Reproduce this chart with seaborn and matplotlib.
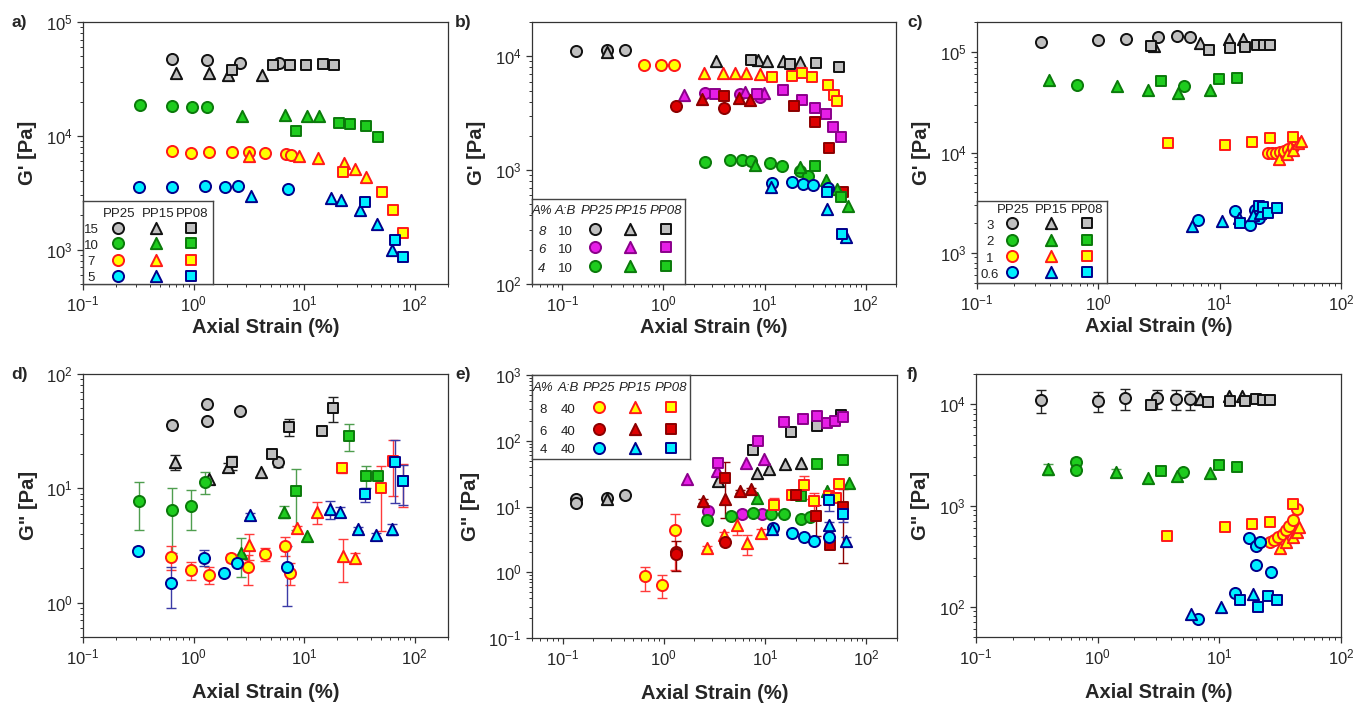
import numpy as np
import pandas as pd
import matplotlib
matplotlib.use("Agg")
import matplotlib.pyplot as plt
import seaborn as sns
from matplotlib.ticker import LogLocator, NullFormatter, LogFormatterSciNotation

# ------------------------------------------------------------------ data
SAMPLES = ["PP25", "PP15", "PP08"]

# panel a) G' (A:B ratio series 15 / 10 / 7 / 5)
A_GRAY = {"PP25": ([0.64, 1.31, 2.64, 5.9], [47200, 46600, 44000, 43500]),
          "PP15": ([0.687, 1.38, 2.04, 4.14], [35500, 35500, 33900, 34500]),
          "PP08": ([2.22, 5.2, 7.47, 10.4, 14.7, 18.5], [38200, 41500, 41500, 41500, 42500, 42000])}
A_GREEN = {"PP25": ([0.325, 0.64, 0.973, 1.31], [18700, 18300, 18000, 17900]),
           "PP15": ([2.72, 6.68, 10.7, 13.6], [15000, 15200, 15000, 14800]),
           "PP08": ([8.47, 20.8, 26.0, 36.3, 47.0], [11100, 12900, 12700, 12300, 9800])}
A_YELLOW = {"PP25": ([0.637, 0.953, 1.38, 2.22, 3.2, 4.38, 6.88, 7.63], [7430, 7130, 7280, 7280, 7280, 7130, 6890, 6750]),
            "PP15": ([3.2, 8.95, 13.3, 22.8, 29.1, 36.3], [6660, 6660, 6440, 5740, 5150, 4380]),
            "PP08": ([22.3, 50.4, 64.2, 78.0], [4850, 3230, 2250, 1400])}
A_CYAN = {"PP25": ([0.318, 0.637, 1.27, 1.92, 2.53, 7.17], [3570, 3520, 3620, 3570, 3620, 3430]),
          "PP15": ([3.32, 17.5, 21.6, 32.1, 45.4, 62.4], [2990, 2860, 2710, 2220, 1680, 1000]),
          "PP08": ([35.6, 66.8, 78.0], [2650, 1210, 860])}

# panel b) G' (A% series, A:B 10 and 40)
B_GRAY = {"PP25": ([0.137, 0.278, 0.415], [11200, 11400, 11300]),
          "PP15": ([0.278, 3.33, 8.7, 10.7, 15.2, 22.2], [11000, 9170, 9200, 9170, 9170, 8920]),
          "PP08": ([7.35, 17.7, 32.4, 55.0], [9360, 8570, 8750, 8010])}
B_MAGENTA = {"PP25": ([2.6, 5.75, 9.06], [4790, 4640, 4390]),
             "PP15": ([1.61, 6.46, 9.9], [4550, 4880, 4720]),
             "PP08": ([3.27, 8.41, 15.2, 23.4, 31.6, 40.3, 48.0, 56.8], [4690, 4690, 5010, 4100, 3490, 3130, 2410, 1960])}
B_GREEN = {"PP25": ([2.6, 4.59, 5.99, 7.35, 11.4, 14.9, 22.5, 27.2], [1190, 1230, 1230, 1210, 1150, 1090, 977, 896]),
           "PP15": ([8.1, 22.5, 40.3, 51.9, 66.5], [1120, 1060, 820, 685, 480]),
           "PP08": ([31.6, 57.2], [1090, 578])}
B_YELLOW = {"PP25": ([0.64, 0.955, 1.26], [8460, 8460, 8460]),
            "PP15": ([2.54, 3.88, 5.14, 6.49, 8.92], [7140, 7200, 7140, 7140, 7000]),
            "PP08": ([11.8, 18.6, 23.5, 29.8, 42.8, 48.8, 52.6], [6560, 6690, 7060, 6560, 5580, 4560, 4050])}
B_DARKRED = {"PP25": ([1.32, 3.94], [3640, 3540]),
             "PP15": ([2.38, 5.54, 7.12], [4190, 4270, 4130]),
             "PP08": ([3.94, 19.6, 31.6, 43.5, 59.4], [4480, 3660, 2670, 1560, 640])}
B_CYAN = {"PP25": ([11.8, 18.6, 23.9, 30.1, 42.8], [768, 782, 757, 743, 694]),
          "PP15": ([11.6, 41.3, 63.7], [718, 458, 259]),
          "PP08": ([41.3, 58.0], [640, 277])}

# panel c) G' (series 3 / 2 / 1 / 0.6)
C_GRAY = {"PP25": ([0.339, 1.0, 1.69, 3.1, 4.44, 5.71], [127600, 132000, 135000, 143000, 146000, 143000]),
          "PP15": ([2.85, 6.9, 12.0, 15.5], [116000, 123000, 134000, 135000]),
          "PP08": ([2.73, 8.1, 12.2, 16.2, 20.2, 23.0, 26.1], [116000, 105000, 110000, 112000, 118000, 118000, 118000])}
C_GREEN = {"PP25": ([0.667, 5.04], [46700, 45700]),
           "PP15": ([0.389, 1.42, 2.59, 4.52, 8.36], [52400, 45700, 41700, 39200, 41700]),
           "PP08": ([3.3, 9.9, 14.0], [51500, 54400, 55200])}
C_YELLOW = {"PP25": ([24.8, 26.9, 29.2, 31.5, 34.0, 36.9, 40.0, 43.2], [9820, 9960, 10000, 10200, 10400, 10800, 11400, 12300]),
            "PP15": ([31.1, 36.1, 40.5, 44.6, 46.6], [8550, 9660, 10600, 12300, 13100]),
            "PP08": ([3.74, 11.1, 18.6, 26.1, 40.5], [12300, 11900, 12800, 14000, 14400])}
C_CYAN = {"PP25": ([6.69, 13.4, 17.8, 19.4, 20.9], [2110, 2590, 1910, 2690, 2220]),
          "PP15": ([5.9, 10.4, 14.3, 19.0, 21.5], [1840, 2060, 2220, 2400, 2500]),
          "PP08": ([14.7, 20.9, 22.6, 25.2, 29.9], [1990, 2940, 2840, 2500, 2790])}

# panel d) G'' with error (x, y, err)
D_GRAY = {"PP25": ([0.64, 1.31, 1.31, 2.61, 5.78], [35.9, 54.9, 39.0, 47.7, 16.9], [3.0, 0, 0, 0, 1.5]),
          "PP15": ([0.682, 1.38, 2.04, 4.08], [16.9, 12.1, 15.5, 14.0], [2.5, 0, 1.0, 0]),
          "PP08": ([2.22, 5.14, 7.26, 14.5, 18.2], [16.9, 20.0, 34.7, 31.4, 50.3], [2.3, 0, 6.0, 0, 12.5])}
D_GREEN = {"PP25": ([0.321, 0.637, 0.953, 1.27], [7.8, 6.41, 7.0, 11.4], [3.5, 3.7, 2.7, 2.5]),
           "PP15": ([2.7, 6.64, 10.6], [2.69, 6.24, 3.82], [1.0, 0.7, 0]),
           "PP08": ([8.36, 25.4, 36.3, 46.3], [9.5, 28.8, 12.8, 12.8], [5.2, 7.5, 2.8, 0])}
D_YELLOW = {"PP25": ([0.627, 0.94, 1.38, 2.19, 3.09, 4.38, 6.75, 7.52], [2.52, 1.92, 1.76, 2.48, 2.03, 2.65, 3.14, 1.83],
                     [0.6, 0.35, 0.3, 0.2, 0.6, 0.35, 0.6, 0.4]),
            "PP15": ([3.17, 8.65, 13.0, 22.3, 28.9], [3.18, 4.46, 6.24, 2.55, 2.46], [0.8, 0.2, 1.4, 1.05, 0.25]),
            "PP08": ([22.0, 49.7, 63.3, 78.0], [15.2, 10.0, 17.5, 11.6], [1.5, 5.8, 9.0, 4.8])}
D_CYAN = {"PP25": ([0.314, 0.627, 1.25, 1.88, 2.46, 7.0], [2.84, 1.47, 2.47, 1.80, 2.2, 2.03], [0.2, 0.58, 0.4, 0, 0, 1.1]),
          "PP15": ([3.25, 17.3, 21.3, 31.0, 44.8, 61.9], [5.84, 6.59, 6.24, 4.4, 3.9, 4.4], [0.2, 1.2, 0.6, 0.2, 0.2, 0.5]),
          "PP08": ([35.6, 66.8, 78.0], [8.86, 16.9, 11.6], [1.3, 9.5, 4.5])}

# panel e) G'' with error
E_GRAY = {"PP25": ([0.137, 0.137, 0.278, 0.415], [12.9, 11.5, 13.5, 14.9], [0, 0, 0, 0]),
          "PP15": ([0.278, 3.39, 8.4, 10.9, 15.7, 22.5], [13.2, 24.3, 31.8, 37.1, 43.7, 46.3], [0, 0, 0, 0, 0, 0]),
          "PP08": ([7.5, 17.9, 32.8, 55.8], [72.1, 134, 169, 246], [0, 0, 0, 0])}
E_MAGENTA = {"PP25": ([2.7, 5.97, 9.27], [8.5, 7.64, 7.64], [0, 0, 0]),
             "PP15": ([1.68, 3.35, 6.49, 9.77], [26.1, 35.0, 46.3, 52.0], [0, 0, 0, 0]),
             "PP08": ([3.44, 8.53, 15.4, 23.7, 32.4, 40.3, 48.7, 58.0], [45.2, 100, 194, 211, 238, 188, 202, 232],
                      [0, 0, 0, 0, 0, 0, 0, 0])}
E_GREEN = {"PP25": ([2.65, 4.64, 7.5, 11.5, 15.2, 22.8, 27.8], [6.34, 7.12, 8.1, 7.64, 7.64, 6.56, 6.96], [0, 0, 0, 0, 0, 0, 0]),
           "PP15": ([8.23, 41.2, 67.5], [13.7, 17.3, 22.4], [0, 0, 0]),
           "PP08": ([22.5, 32.4, 58.0], [14.5, 44.2, 50.8], [0, 0, 0])}
E_YELLOW = {"PP25": ([0.648, 0.970, 1.28], [0.869, 0.649, 4.37], [0.35, 0.25, 3.3]),
            "PP15": ([2.64, 3.94, 5.25, 6.59, 9.2], [2.35, 3.66, 5.2, 2.74, 3.97], [0.2, 0.5, 1.5, 0.9, 0.5]),
            "PP08": ([12.1, 18.6, 24.3, 30.5, 42.8, 49.8, 53.7], [10.7, 14.9, 21.1, 12.2, 14.4, 13.7, 21.9],
                     [3.0, 1.0, 8.0, 4.0, 2.0, 1.0, 2.0])}
E_DARKRED = {"PP25": ([1.31, 1.31, 4.03], [2.04, 1.9, 2.9], [1.0, 0, 0.3]),
             "PP15": ([2.41, 4.03, 5.62, 7.2], [12.2, 13.2, 17.1, 18.4], [1.0, 0, 1.0, 1.0]),
             "PP08": ([4.03, 20.1, 31.6, 43.7, 58.7], [26.7, 15.2, 7.1, 2.58, 9.9], [20.0, 1.0, 3.5, 0.3, 8.5])}
E_CYAN = {"PP25": ([12.0, 18.6, 23.9, 30.5, 42.8], [4.73, 3.97, 3.45, 2.97, 3.45], [0, 0, 0, 0, 0]),
          "PP15": ([11.8, 42.2, 62.5], [4.6, 5.2, 2.97], [0.3, 0.6, 0.5]),
          "PP08": ([42.2, 58.7], [12.5, 7.8], [4.0, 2.0])}

# panel f) G'' with error
F_GRAY = {"PP25": ([0.339, 1.0, 1.69, 3.1, 4.44, 5.71], [11000, 10800, 11500, 11500, 11300, 11300],
                   [2800, 2400, 2600, 2400, 2500, 2400]),
          "PP15": ([6.9, 12.0, 15.5], [11200, 12200, 12200], [0, 0, 0]),
          "PP08": ([2.73, 8.1, 12.2, 16.2, 20.2, 23.0, 26.1], [9850, 10600, 10800, 10800, 11200, 11000, 11000],
                   [800, 0, 0, 0, 0, 0, 0])}
F_GREEN = {"PP25": ([0.667, 0.667, 5.04], [2680, 2240, 2160], [300, 0, 0]),
           "PP15": ([0.389, 1.42, 2.59, 4.52, 8.36], [2300, 2160, 1880, 1960, 2110], [300, 150, 0, 0, 0]),
           "PP08": ([3.3, 9.9, 14.0], [2190, 2510, 2420], [0, 0, 0])}
F_YELLOW = {"PP25": ([26.1, 28.1, 30.5, 33.1, 35.3, 37.6, 40.0, 43.2], [440, 456, 492, 523, 572, 627, 719, 916],
                     [0, 0, 0, 0, 0, 0, 0, 0]),
            "PP15": ([31.4, 35.6, 40.0, 43.7, 45.4], [378, 440, 492, 551, 618], [0, 0, 0, 0, 0]),
            "PP08": ([3.74, 11.1, 18.6, 26.1, 40.5], [500, 608, 651, 692, 1030], [0, 0, 0, 0, 0])}
F_CYAN = {"PP25": ([6.69, 13.4, 17.6, 20.0, 21.5, 20.0, 26.4], [75, 137, 473, 398, 440, 258, 222], [0, 0, 0, 0, 0, 0, 0]),
          "PP15": ([5.87, 10.4, 19.0], [84, 100, 132], [0, 0, 0]),
          "PP08": ([14.9, 20.9, 25.2, 29.9], [115, 100, 127, 115], [0, 0, 0, 0])}

# legend tables
LEG_A_ROWS = [["15"], ["10"], ["7"], ["5"]]
LEG_B_ROWS = [["8", "10"], ["6", "10"], ["4", "10"]]
LEG_C_ROWS = [["3"], ["2"], ["1"], ["0.6"]]
LEG_E_ROWS = [["8", "40"], ["6", "40"], ["4", "40"]]

X_LABEL = "Axial Strain (%)"
Y_LABEL_G1 = "G' [Pa]"
Y_LABEL_G2 = 'G" [Pa]'

# ------------------------------------------------------------------ style
sns.set_style("white")
plt.rcParams["font.family"] = ["Liberation Sans", "DejaVu Sans"]
plt.rcParams["mathtext.fontset"] = "custom"
plt.rcParams["mathtext.rm"] = "Liberation Sans"
plt.rcParams["mathtext.it"] = "Liberation Sans:italic"
plt.rcParams["mathtext.bf"] = "Liberation Sans:bold"

STYLE = {
    "gray": dict(face="#c0c0c0", edge="#111111", err="#222222"),
    "green": dict(face="#1ecc1e", edge="#0b7a0b", err="#4f9e4f"),
    "yellow": dict(face="#ffff00", edge="#ff1a1a", err="#ff3b3b"),
    "cyan": dict(face="#00f0ff", edge="#00008b", err="#3b3ba6"),
    "magenta": dict(face="#e61ee6", edge="#8b008b", err="#8b008b"),
    "darkred": dict(face="#dd0000", edge="#8b0000", err="#8b0000"),
}
MARKER = {"PP25": "o", "PP15": "^", "PP08": "s"}
MSIZE = {"o": 64, "^": 66, "s": 54}
EDGE_LW = 1.4


def to_frame(series):
    rows = []
    for group, data in series:
        for smp in SAMPLES:
            vals = data[smp]
            xs, ys = vals[0], vals[1]
            es = vals[2] if len(vals) > 2 else [0] * len(xs)
            for x, y, e in zip(xs, ys, es):
                rows.append(dict(group=group, sample=smp, strain=x, modulus=y, err=e))
    return pd.DataFrame(rows)


def draw(ax, series):
    df = to_frame(series)
    for (group, smp), sub in df.groupby(["group", "sample"], sort=False):
        st = STYLE[group]
        eb = sub[sub["err"] > 0]
        if len(eb):
            ax.errorbar(eb["strain"], eb["modulus"], yerr=eb["err"], fmt="none",
                        ecolor=st["err"], elinewidth=1.0, capsize=3.5, capthick=1.0, zorder=2)
        m = MARKER[smp]
        sns.scatterplot(data=sub, x="strain", y="modulus", ax=ax, marker=m, s=MSIZE[m],
                        color=st["face"], edgecolor=st["edge"], linewidth=EDGE_LW,
                        zorder=3, legend=False)


def table_legend(ax, box, headers, header_x, header_y, row_labels, label_x, mark_x, row_y,
                 groups, italic_head, italic_first=False):
    lax = ax.inset_axes(box)
    lax.set_xlim(0, 1)
    lax.set_ylim(0, 1)
    lax.set_xticks([])
    lax.set_yticks([])
    for s in lax.spines.values():
        s.set_color("#444444")
        s.set_linewidth(1.0)
    lax.patch.set_facecolor("white")
    for h, hx in zip(headers, header_x):
        lax.text(hx, header_y, h, ha="center", va="center", fontsize=9.5,
                 style="italic" if italic_head else "normal", color="#222222")
    for i, (labels, g) in enumerate(zip(row_labels, groups)):
        for k, (lab, lx) in enumerate(zip(labels, label_x)):
            lax.text(lx, row_y[i] - 0.03, lab, ha="center", va="center", fontsize=9.5,
                     style="italic" if (italic_first and k == 0) else "normal", color="#222222")
        st = STYLE[g]
        for j, smp in enumerate(SAMPLES):
            m = MARKER[smp]
            lax.scatter([mark_x[j]], [row_y[i]], marker=m, s=MSIZE[m], facecolor=st["face"],
                        edgecolor=st["edge"], linewidth=EDGE_LW, zorder=3)
    return lax


def style_axes(ax, xlim, ylim, ylabel, xpad):
    ax.set_xscale("log")
    ax.set_yscale("log")
    ax.set_xlim(*xlim)
    ax.set_ylim(*ylim)
    for s in ax.spines.values():
        s.set_color("#333333")
        s.set_linewidth(0.9)
        s.set_visible(True)
    for axis in (ax.xaxis, ax.yaxis):
        axis.set_major_locator(LogLocator(base=10, numticks=12))
        axis.set_minor_locator(LogLocator(base=10, subs=np.arange(2, 10), numticks=12))
        axis.set_major_formatter(LogFormatterSciNotation())
        axis.set_minor_formatter(NullFormatter())
    ax.tick_params(which="major", direction="out", length=4.5, width=0.9, color="#333333",
                   labelsize=12, pad=3, left=True, bottom=True, top=False, right=False)
    ax.tick_params(which="minor", direction="out", length=2.5, width=0.7, color="#333333",
                   left=True, bottom=True, top=False, right=False)
    ax.set_xlabel(X_LABEL, fontsize=14.5, fontweight="bold", labelpad=xpad)
    ax.set_ylabel(ylabel, fontsize=14.5, fontweight="bold", labelpad=6)
    ax.grid(False)


W, H = 1358, 708
fig = plt.figure(figsize=(W / 100, H / 100), dpi=100)


def add_axes(left, top, right, bottom):
    return fig.add_axes([left / W, 1 - bottom / H, (right - left) / W, (bottom - top) / H])


ax_a = add_axes(83, 22, 448, 284)
ax_b = add_axes(532, 22, 896, 284)
ax_c = add_axes(977, 22, 1341, 283)
ax_d = add_axes(83, 374, 448, 637)
ax_e = add_axes(532, 375, 897, 638)
ax_f = add_axes(976, 374, 1341, 637)

TOP_PAD, BOTTOM_PAD = 3, 11

# panel a
style_axes(ax_a, (0.1, 200), (500, 1e5), Y_LABEL_G1, TOP_PAD)
draw(ax_a, [("gray", A_GRAY), ("green", A_GREEN), ("yellow", A_YELLOW), ("cyan", A_CYAN)])
table_legend(ax_a, [0, 0, 0.356, 0.317], SAMPLES, [0.28, 0.575, 0.84], 0.845,
             LEG_A_ROWS, [0.065], [0.27, 0.56, 0.83], [0.68, 0.49, 0.29, 0.1],
             ["gray", "green", "yellow", "cyan"], False)

# panel b
style_axes(ax_b, (0.05, 200), (100, 2e4), Y_LABEL_G1, TOP_PAD)
draw(ax_b, [("gray", B_GRAY), ("yellow", B_YELLOW), ("magenta", B_MAGENTA), ("darkred", B_DARKRED),
            ("green", B_GREEN), ("cyan", B_CYAN)])
table_legend(ax_b, [0, 0, 0.421, 0.323], ["A%", "A:B"] + SAMPLES,
             [0.065, 0.215, 0.42, 0.645, 0.875], 0.866,
             LEG_B_ROWS, [0.065, 0.217], [0.413, 0.641, 0.876], [0.65, 0.437, 0.213],
             ["gray", "magenta", "green"], True, italic_first=True)

# panel c
style_axes(ax_c, (0.1, 100), (500, 2e5), Y_LABEL_G1, TOP_PAD)
draw(ax_c, [("gray", C_GRAY), ("green", C_GREEN), ("yellow", C_YELLOW), ("cyan", C_CYAN)])
table_legend(ax_c, [0, 0, 0.357, 0.315], SAMPLES, [0.28, 0.57, 0.85], 0.883,
             LEG_C_ROWS, [0.1], [0.271, 0.566, 0.845], [0.729, 0.526, 0.324, 0.13],
             ["gray", "green", "yellow", "cyan"], False)

# panel d
style_axes(ax_d, (0.1, 200), (0.5, 100), Y_LABEL_G2, BOTTOM_PAD)
draw(ax_d, [("gray", D_GRAY), ("green", D_GREEN), ("yellow", D_YELLOW), ("cyan", D_CYAN)])

# panel e
style_axes(ax_e, (0.05, 200), (0.1, 1000), Y_LABEL_G2, BOTTOM_PAD)
draw(ax_e, [("gray", E_GRAY), ("magenta", E_MAGENTA), ("green", E_GREEN), ("yellow", E_YELLOW),
            ("darkred", E_DARKRED), ("cyan", E_CYAN)])
table_legend(ax_e, [0, 0.68, 0.434, 0.32], ["A%", "A:B"] + SAMPLES,
             [0.07, 0.228, 0.425, 0.651, 0.879], 0.849,
             LEG_E_ROWS, [0.07, 0.228], [0.425, 0.651, 0.879], [0.615, 0.357, 0.135],
             ["yellow", "darkred", "cyan"], True)

# panel f
style_axes(ax_f, (0.1, 100), (50, 2e4), Y_LABEL_G2, BOTTOM_PAD)
draw(ax_f, [("gray", F_GRAY), ("green", F_GREEN), ("yellow", F_YELLOW), ("cyan", F_CYAN)])

# panel letters
for lab, (px, py) in zip(["a)", "b)", "c)", "d)", "e)", "f)"],
                         [(11, 22), (455, 22), (907, 22), (11, 375), (455, 375), (907, 375)]):
    fig.text(px / W, 1 - py / H, lab, fontsize=12.5, fontweight="bold", ha="left", va="center")

fig.savefig("out.png", dpi=100)
